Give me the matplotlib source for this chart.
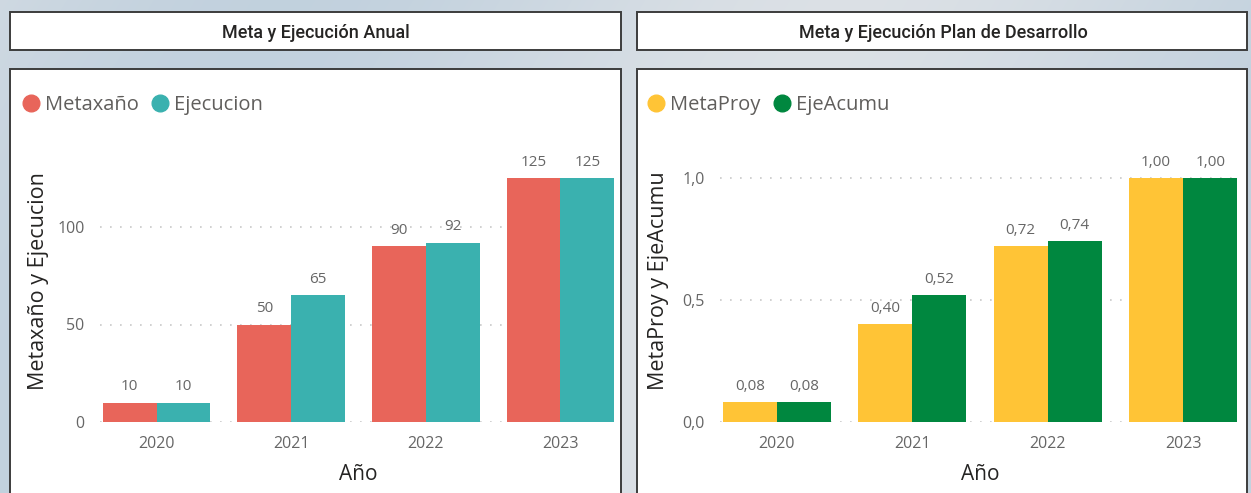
import numpy as np
import matplotlib.pyplot as plt
from matplotlib.patches import Rectangle
from matplotlib.lines import Line2D
from matplotlib.ticker import FuncFormatter

# datos
anios = ['2020', '2021', '2022', '2023']
metaxano = [10, 50, 90, 125]
ejecucion = [10, 65, 92, 125]
meta_proy = [0.08, 0.40, 0.72, 1.00]
eje_acumu = [0.08, 0.52, 0.74, 1.00]

W, H = 1251, 493
plt.rcParams['font.family'] = ['Open Sans', 'DejaVu Sans']

fig = plt.figure(figsize=(W / 100, H / 100), dpi=100)

# fondo y recuadros, en pixeles
bg = fig.add_axes([0, 0, 1, 1], zorder=0)
bg.set_xlim(0, W)
bg.set_ylim(H, 0)
bg.axis('off')
yy, xx = np.mgrid[0:H, 0:W]
grad = 0.5 + 0.5 * np.sin((xx + yy * 0.6) / 180.0)
c1 = np.array([0.86, 0.88, 0.90])
c2 = np.array([0.76, 0.82, 0.87])
img = c1[None, None, :] * (1 - grad[..., None]) + c2[None, None, :] * grad[..., None]
bg.imshow(img, extent=(0, W, H, 0), aspect='auto')

for x0, x1 in [(10, 621), (637, 1247)]:
    bg.add_patch(Rectangle((x0, 12), x1 - x0, 38, facecolor='white',
                           edgecolor='#3c3c3c', lw=1.4))
    bg.add_patch(Rectangle((x0, 69), x1 - x0, 440, facecolor='white',
                           edgecolor='#3c3c3c', lw=1.4))

bg.text(316, 33, 'Meta y Ejecución Anual', ha='center', va='center',
        fontsize=13, color='#252423', family=['Roboto', 'DejaVu Sans'],
        fontweight='medium')
bg.text(943, 33, 'Meta y Ejecución Plan de Desarrollo', ha='center', va='center',
        fontsize=13, color='#252423', family=['Roboto', 'DejaVu Sans'],
        fontweight='medium')


def px_axes(x0, x1, ytop, ybot):
    return fig.add_axes([x0 / W, (H - ybot) / H, (x1 - x0) / W, (ybot - ytop) / H],
                        zorder=2)


def draw_panel(ax, a, b, names, colors, ymax, yticks, ylabel, fmt, legend_x):
    x = np.arange(len(anios))
    w = 0.4
    b1 = ax.bar(x - w / 2, a, w, color=colors[0], zorder=2)
    b2 = ax.bar(x + w / 2, b, w, color=colors[1], zorder=2)
    for bars, vals in [(b1, a), (b2, b)]:
        ax.bar_label(bars, labels=[fmt(v) for v in vals], padding=6,
                     fontsize=11, color='#666666')
    ax.set_xlim(-0.42, 3.42)
    ax.set_ylim(0, ymax)
    ax.set_yticks(yticks)
    ax.yaxis.set_major_formatter(FuncFormatter(lambda v, p: fmt(v, tick=True)))
    ax.set_xticks(x)
    ax.set_xticklabels(anios)
    ax.grid(axis='y', linestyle=(0, (1, 5)), color='#c8c8c8', lw=1.2, zorder=0)
    for s in ax.spines.values():
        s.set_visible(False)
    ax.tick_params(axis='both', length=0, labelsize=11.5, colors='#666666')
    ax.tick_params(axis='y', pad=11)
    ax.tick_params(axis='x', pad=10)
    ax.set_xlabel('Año', fontsize=15, color='#252423', labelpad=9)
    ax.set_ylabel(ylabel, fontsize=15.5, color='#252423')
    ax.yaxis.set_label_coords(-0.098, 0.5)
    ax.set_facecolor('none')
    handles = [Line2D([], [], marker='o', ls='none', markersize=12, color=c)
               for c in colors]
    ax.legend(handles, names, loc='center left', frameon=False, ncol=2,
              bbox_to_anchor=(legend_x / W, (H - 105) / H),
              bbox_transform=fig.transFigure, fontsize=14.5,
              labelcolor='#605e5c', handlelength=0.9, handletextpad=0.25,
              columnspacing=0.6, borderaxespad=0, borderpad=0)


def fmt_int(v, tick=False):
    return f'{v:.0f}'


def fmt_dec(v, tick=False):
    s = f'{v:.1f}' if tick else f'{v:.2f}'
    return s.replace('.', ',')


ax1 = px_axes(100, 617, 140, 422)
draw_panel(ax1, metaxano, ejecucion, ['Metaxaño', 'Ejecucion'],
           ['#e8655a', '#3ab1af'], (422 - 140) / 1.95, [0, 50, 100],
           'Metaxaño y Ejecucion', fmt_int, 22)

ax2 = px_axes(720, 1240, 140, 422)
draw_panel(ax2, meta_proy, eje_acumu, ['MetaProy', 'EjeAcumu'],
           ['#ffc436', '#00873f'], (422 - 140) / 244.0, [0, 0.5, 1.0],
           'MetaProy y EjeAcumu', fmt_dec, 647)

fig.savefig('out.png', dpi=100)
